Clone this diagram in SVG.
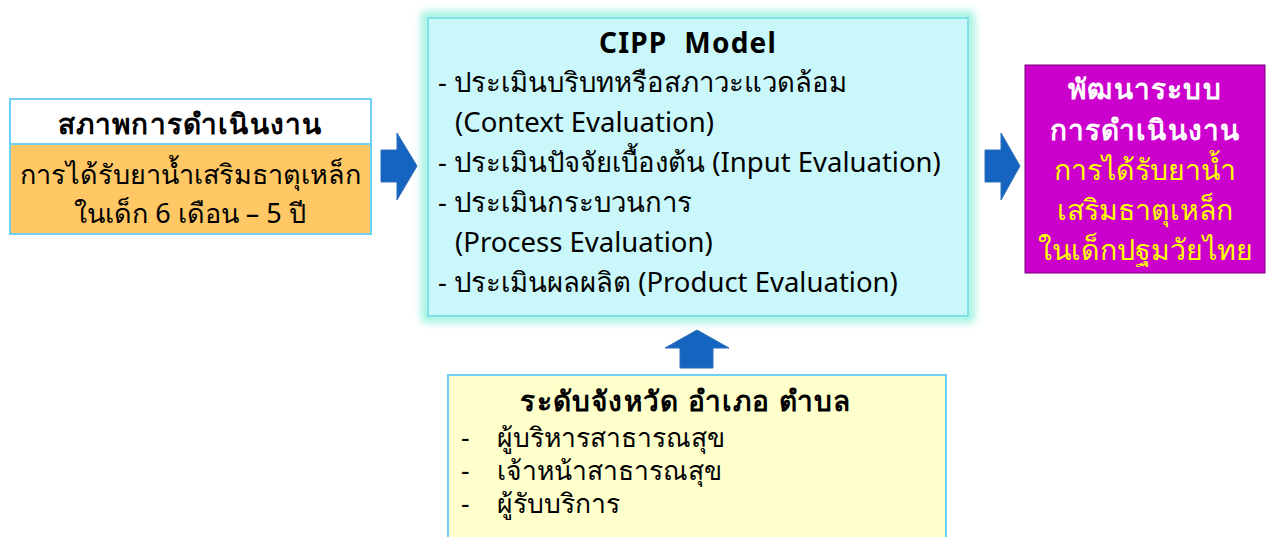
<svg xmlns="http://www.w3.org/2000/svg" width="1269" height="537" viewBox="0 0 1269 537">
<defs>
<style>
text{font-family:"Noto Sans","Liberation Sans",sans-serif;font-size:27.5px;fill:#000}
.b{font-weight:bold;font-size:28px;letter-spacing:1.2px}
.c{text-anchor:middle}
.s{font-size:26.5px}
.arrow{fill:#1565c0;stroke:#2f6fb8;stroke-width:1}
.box{stroke:#6fd0f5;stroke-width:2}
</style>
<filter id="glow" x="-10%" y="-10%" width="120%" height="120%">
<feGaussianBlur stdDeviation="4"/>
</filter>
</defs>
<rect width="1269" height="537" fill="#fff"/>
<g id="left-node">
<rect class="box" x="10" y="99" width="361" height="45" fill="#fff"/>
<rect class="box" x="10" y="144" width="361" height="90" fill="#ffc864"/>
<text class="b c" x="190" y="134">สภาพการดำเนินงาน</text>
<text class="c" x="190" y="184" style="font-size:27px">การได้รับยาน้ำเสริมธาตุเหล็ก</text>
<text class="c" x="190" y="223" style="font-size:27px">ในเด็ก 6 เดือน – 5 ปี</text>
</g>
<g id="cipp-node">
<rect x="426" y="16" width="544" height="302" fill="none" stroke="#8ef0d8" stroke-width="8" filter="url(#glow)"/>
<rect x="428" y="18" width="540" height="298" fill="#c9f7fa" stroke="#7fe0e8" stroke-width="2"/>
<text class="b c" x="688" y="53" xml:space="preserve">CIPP  Model</text>
<text x="438" y="92">- ประเมินบริบทหรือสภาวะแวดล้อม</text>
<text x="455" y="132">(Context Evaluation)</text>
<text x="438" y="172">- ประเมินปัจจัยเบื้องต้น (Input Evaluation)</text>
<text x="438" y="212">- ประเมินกระบวนการ</text>
<text x="455" y="252">(Process Evaluation)</text>
<text x="438" y="292">- ประเมินผลผลิต (Product Evaluation)</text>
</g>
<g id="result-node">
<rect x="1025" y="65" width="240" height="208" fill="#cc00cc" stroke="#7a007a" stroke-width="1"/>
<text class="b c" x="1145" y="99" style="fill:#fff">พัฒนาระบบ</text>
<text class="b c" x="1145" y="140" style="fill:#fff">การดำเนินงาน</text>
<text class="c" x="1145" y="180" style="fill:#ffff00;font-size:28.5px">การได้รับยาน้ำ</text>
<text class="c" x="1145" y="220" style="fill:#ffff00;font-size:28.5px">เสริมธาตุเหล็ก</text>
<text class="c" x="1145" y="260" style="fill:#ffff00;font-size:28.5px">ในเด็กปฐมวัยไทย</text>
</g>
<g id="level-node">
<rect class="box" x="448" y="375" width="498" height="170" fill="#ffffcc"/>
<text class="b c" x="686" y="411">ระดับจังหวัด อำเภอ ตำบล</text>
<text class="s" x="461" y="447">-</text>
<text class="s" x="497" y="447">ผู้บริหารสาธารณสุข</text>
<text class="s" x="461" y="480">-</text>
<text class="s" x="497" y="480">เจ้าหน้าสาธารณสุข</text>
<text class="s" x="461" y="513">-</text>
<text class="s" x="497" y="513">ผู้รับบริการ</text>
</g>
<g id="connectors">
<polygon class="arrow" points="381,150 397,150 397,133 417,166 397,200 397,182 381,182"/>
<polygon class="arrow" points="985,150 1001,150 1001,133 1020,166 1001,200 1001,182 985,182"/>
<polygon class="arrow" points="680,368 680,348 665,348 697,330 729,348 713,348 713,368"/>
</g>
</svg>
